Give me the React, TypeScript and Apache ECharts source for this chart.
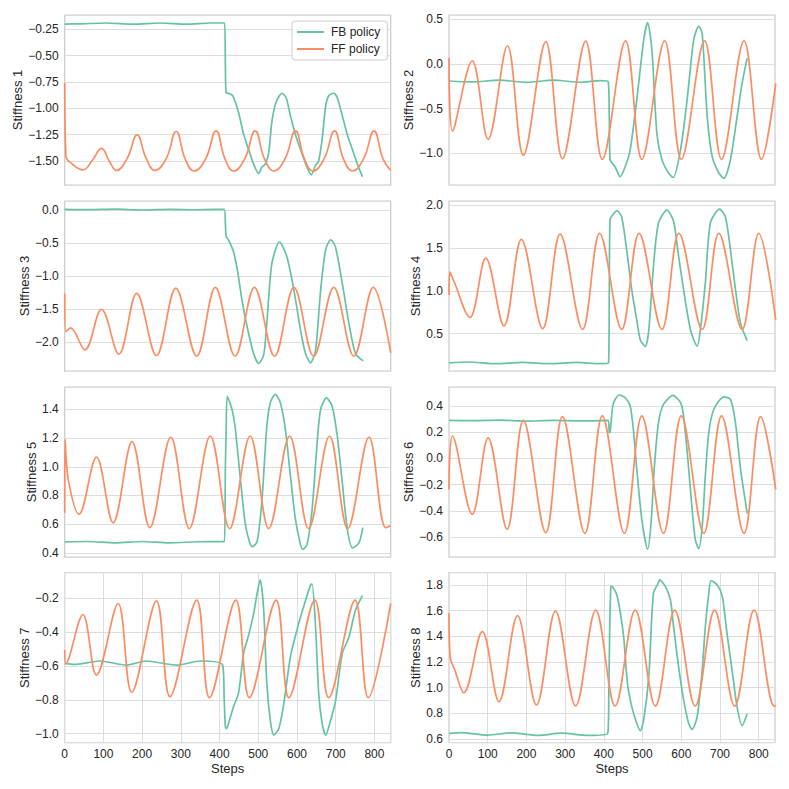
import React, { useEffect, useRef } from "react";
import * as echarts from "echarts";

// ---------------- data ----------------
const X_MAX = 842;
const panelNames = ["Stiffness 1", "Stiffness 2", "Stiffness 3", "Stiffness 4", "Stiffness 5", "Stiffness 6", "Stiffness 7", "Stiffness 8"];
const yMins = [-1.728, -1.354, -2.433, 0.065, 0.372, -0.753, -1.053, 0.571];
const yMaxs = [-0.114, 0.549, 0.136, 2.047, 1.555, 0.545, -0.048, 1.896];
const yIntervals = [0.25, 0.5, 0.5, 0.5, 0.2, 0.2, 0.2, 0.2];
const yDecimals = [2, 1, 1, 1, 1, 1, 1, 1];
const xInterval = 100;
const seriesNames = ["FB policy", "FF policy"];

const fb1 = [[0,-0.2],[40,-0.198],[108,-0.19],[177,-0.2],[246,-0.19],[315,-0.2],[376,-0.19],[413,-0.19],[415,-0.6],[417,-0.85],[425,-0.86],[434,-0.88],[449,-1.04],[462,-1.245],[475,-1.39],[488,-1.53],[501,-1.62],[509,-1.56],[518,-1.53],[527,-1.42],[535,-1.13],[546,-0.94],[561,-0.857],[572,-0.9],[583,-1.07],[596,-1.25],[613,-1.43],[626,-1.56],[637,-1.63],[648,-1.54],[656,-1.5],[665,-1.29],[674,-0.98],[682,-0.88],[695,-0.857],[704,-0.9],[717,-1.07],[730,-1.25],[743,-1.39],[756,-1.53],[769,-1.65]];
const ff1 = [[0,-0.76],[3,-1.45],[20,-1.53],[47,-1.585],[72,-1.49],[95,-1.38],[115,-1.5],[134,-1.59],[162,-1.47],[187,-1.253],[210,-1.47],[233,-1.59],[262,-1.48],[288,-1.22],[311,-1.48],[334,-1.595],[364,-1.48],[391,-1.215],[414,-1.48],[436,-1.595],[465,-1.48],[492,-1.215],[516,-1.48],[540,-1.595],[569,-1.48],[596,-1.215],[619,-1.48],[641,-1.595],[670,-1.48],[697,-1.215],[720,-1.48],[743,-1.595],[772,-1.48],[799,-1.215],[822,-1.48],[842,-1.59]];

const fb2 = [[0,-0.19],[60,-0.2],[130,-0.18],[200,-0.205],[270,-0.18],[340,-0.205],[390,-0.185],[411,-0.195],[414,-0.6],[416,-1.07],[429,-1.15],[442,-1.26],[455,-1.15],[468,-0.96],[485,-0.4],[503,0.27],[513,0.463],[524,0.16],[537,-0.78],[550,-1.07],[567,-1.22],[579,-1.27],[598,-0.96],[615,-0.4],[632,0.27],[645,0.425],[654,0.34],[667,-0.59],[680,-1.04],[697,-1.22],[710,-1.28],[727,-1.07],[744,-0.59],[757,-0.216],[770,0.063]];
const ff2 = [[0,0.07],[9,-0.75],[60,0.037],[101,-0.843],[151,0.205],[192,-1.02],[250,0.25],[293,-1.06],[353,0.257],[396,-1.067],[456,0.261],[498,-1.067],[557,0.261],[600,-1.067],[660,0.261],[704,-1.067],[762,0.261],[807,-1.067],[844,-0.216]];

const fb3 = [[0,0.01],[60,0.005],[130,0.012],[200,0.0],[270,0.01],[340,0.004],[412,0.01],[415,-0.2],[417,-0.4],[423,-0.45],[436,-0.63],[446,-0.91],[458,-1.36],[471,-1.76],[488,-2.17],[501,-2.32],[514,-2.19],[522,-1.71],[535,-0.81],[555,-0.48],[574,-0.71],[592,-1.21],[609,-1.81],[622,-2.17],[635,-2.31],[648,-2.12],[661,-1.21],[674,-0.6],[687,-0.45],[699,-0.55],[717,-1.11],[734,-1.71],[751,-2.17],[771,-2.28]];
const ff3 = [[0,-1.26],[3,-1.84],[15,-1.78],[52,-2.115],[95,-1.5],[140,-2.18],[186,-1.26],[237,-2.2],[287,-1.18],[341,-2.21],[389,-1.17],[440,-2.21],[490,-1.17],[542,-2.21],[592,-1.17],[643,-2.21],[695,-1.17],[747,-2.21],[797,-1.17],[842,-2.16]];

const fb4 = [[0,0.16],[50,0.17],[120,0.15],[190,0.165],[260,0.15],[330,0.165],[390,0.15],[412,0.16],[414,1.0],[416,1.83],[422,1.88],[434,1.935],[446,1.86],[459,1.475],[472,1.01],[485,0.66],[494,0.43],[507,0.35],[516,0.54],[528,1.28],[541,1.79],[563,1.94],[580,1.81],[593,1.4],[606,1.01],[624,0.54],[641,0.356],[649,0.54],[662,1.09],[675,1.79],[699,1.953],[714,1.86],[727,1.475],[740,1.01],[753,0.62],[770,0.42]];
const ff4 = [[0,0.95],[2,1.22],[12,1.12],[54,0.69],[95,1.38],[142,0.59],[187,1.6],[242,0.558],[287,1.66],[345,0.55],[389,1.67],[446,0.55],[491,1.67],[550,0.55],[594,1.67],[654,0.55],[697,1.67],[757,0.55],[800,1.67],[844,0.66]];

const fb5 = [[0,0.477],[60,0.48],[130,0.47],[200,0.48],[270,0.47],[340,0.478],[412,0.48],[415,1.0],[417,1.24],[420,1.49],[432,1.4],[440,1.28],[453,0.936],[466,0.61],[479,0.46],[485,0.444],[497,0.48],[509,0.75],[522,1.28],[531,1.446],[544,1.504],[557,1.446],[570,1.26],[583,0.936],[596,0.634],[609,0.46],[615,0.425],[626,0.46],[639,0.704],[652,1.168],[661,1.4],[676,1.48],[691,1.42],[704,1.214],[717,0.89],[730,0.565],[744,0.435],[760,0.47],[770,0.576]];
const ff5 = [[0,0.68],[1,1.19],[10,0.9],[37,0.67],[82,1.068],[125,0.61],[174,1.175],[220,0.576],[274,1.207],[322,0.57],[376,1.214],[426,0.57],[479,1.214],[527,0.57],[581,1.214],[630,0.57],[684,1.214],[731,0.57],[786,1.207],[829,0.576],[842,0.59]];

const fb6 = [[0,0.29],[60,0.288],[130,0.292],[200,0.285],[270,0.29],[340,0.286],[411,0.29],[414,0.196],[416,0.2],[423,0.4],[429,0.45],[440,0.484],[455,0.463],[468,0.4],[477,0.196],[485,-0.083],[498,-0.465],[513,-0.694],[522,-0.49],[530,-0.083],[541,0.273],[554,0.413],[579,0.481],[598,0.425],[606,0.32],[617,-0.01],[628,-0.39],[636,-0.618],[645,-0.689],[654,-0.52],[662,-0.134],[671,0.196],[684,0.375],[710,0.47],[727,0.45],[740,0.27],[753,-0.083],[766,-0.338],[770,-0.42]];
const ff6 = [[0,-0.236],[9,0.171],[60,-0.427],[101,0.156],[150,-0.541],[192,0.29],[250,-0.567],[293,0.319],[351,-0.572],[396,0.324],[453,-0.572],[498,0.324],[554,-0.572],[600,0.324],[658,-0.572],[704,0.324],[762,-0.572],[805,0.319],[844,-0.236]];

const fb7 = [[0,-0.585],[30,-0.59],[90,-0.57],[160,-0.594],[210,-0.57],[290,-0.594],[350,-0.57],[408,-0.594],[412,-0.8],[415,-0.96],[418,-0.97],[423,-0.94],[436,-0.84],[449,-0.76],[462,-0.525],[475,-0.417],[488,-0.29],[497,-0.17],[505,-0.09],[514,-0.27],[522,-0.7],[531,-0.92],[540,-1.008],[553,-0.97],[566,-0.82],[583,-0.545],[600,-0.385],[617,-0.25],[635,-0.12],[639,-0.115],[648,-0.37],[656,-0.76],[665,-0.94],[674,-1.008],[687,-0.92],[700,-0.8],[717,-0.525],[734,-0.43],[751,-0.27],[769,-0.184]];
const ff7 = [[0,-0.505],[3,-0.585],[47,-0.295],[82,-0.653],[138,-0.23],[173,-0.756],[237,-0.214],[272,-0.781],[341,-0.21],[374,-0.787],[442,-0.21],[477,-0.787],[546,-0.21],[579,-0.787],[646,-0.21],[682,-0.787],[750,-0.21],[784,-0.787],[842,-0.23]];

const fb8 = [[0,0.644],[30,0.65],[100,0.63],[160,0.648],[230,0.628],[290,0.645],[360,0.628],[410,0.644],[413,1.0],[415,1.45],[418,1.787],[420,1.79],[432,1.735],[440,1.63],[451,1.4],[461,1.034],[472,0.852],[485,0.722],[494,0.665],[503,0.75],[516,1.086],[528,1.735],[541,1.818],[544,1.84],[559,1.787],[572,1.683],[580,1.475],[593,1.164],[606,0.904],[619,0.722],[628,0.675],[641,0.774],[654,1.138],[662,1.475],[671,1.735],[677,1.834],[693,1.8],[706,1.71],[718,1.423],[731,1.138],[744,0.852],[757,0.704],[770,0.795]];
const ff8 = [[0,1.58],[3,1.24],[15,1.138],[38,0.96],[86,1.436],[129,0.89],[177,1.561],[226,0.865],[275,1.597],[327,0.857],[379,1.605],[429,0.857],[481,1.605],[533,0.857],[583,1.605],[636,0.857],[686,1.605],[738,0.857],[788,1.605],[840,0.857],[844,0.86]];

const fbData = [fb1, fb2, fb3, fb4, fb5, fb6, fb7, fb8];
const ffData = [ff1, ff2, ff3, ff4, ff5, ff6, ff7, ff8];

// ---------------- layout / style ----------------
const FB_COLOR = "#66c2a5";
const FF_COLOR = "#fc8d62";
const TEXT = "#262626";
const FONT = "'Liberation Sans', Arial, sans-serif";
const colLeft = [64.7, 449];
const rowTop = [15, 201, 387, 572.7];
const gridW = 326;
const gridH = 170;
const nameGaps = [40, 32, 32, 25, 26, 32, 31, 25];
const ffSmooth = [0.45, 0.36, 0.36, 0.36, 0.36, 0.36, 0.36, 0.36];

function fmt(v: number, d: number) {
  const r = Number(v.toFixed(d));
  if (r === 0) return (0).toFixed(d);
  return (r < 0 ? "\u2212" : "") + Math.abs(r).toFixed(d);
}

export default function App() {
  const ref = useRef<HTMLDivElement>(null);
  useEffect(() => {
    if (!ref.current) return;
    const chart = echarts.init(ref.current, undefined, { renderer: "svg" });
    const grids: any[] = [];
    const xAxes: any[] = [];
    const yAxes: any[] = [];
    const series: any[] = [];
    for (let i = 0; i < 8; i++) {
      const row = Math.floor(i / 2);
      const col = i % 2;
      const bottom = row === 3;
      grids.push({
        left: colLeft[col],
        top: rowTop[row],
        width: gridW,
        height: gridH,
        show: true,
        borderColor: "#cccccc",
        borderWidth: 1.25,
        backgroundColor: "#ffffff",
      });
      xAxes.push({
        type: "value",
        gridIndex: i,
        min: 0,
        max: X_MAX,
        minInterval: xInterval,
        maxInterval: xInterval,
        axisLine: { show: false },
        axisTick: { show: false },
        splitLine: { show: bottom, lineStyle: { color: "#dddddd", width: 1 } },
        axisLabel: {
          show: bottom,
          color: TEXT,
          fontSize: 12,
          fontFamily: FONT,
          margin: 5,
          showMaxLabel: false,
          formatter: (v: number) => String(Math.round(v)),
        },
        name: bottom ? "Steps" : "",
        nameLocation: "middle",
        nameGap: 19,
        nameTextStyle: { color: TEXT, fontSize: 13, fontFamily: FONT },
      });
      yAxes.push({
        type: "value",
        gridIndex: i,
        min: yMins[i],
        max: yMaxs[i],
        minInterval: yIntervals[i],
        maxInterval: yIntervals[i],
        axisLine: { show: false },
        axisTick: { show: false },
        splitLine: { show: true, lineStyle: { color: "#dddddd", width: 1 } },
        axisLabel: {
          color: TEXT,
          fontSize: 12,
          fontFamily: FONT,
          margin: 6,
          showMinLabel: false,
          showMaxLabel: false,
          formatter: (v: number) => fmt(v, yDecimals[i]),
        },
        name: panelNames[i],
        nameLocation: "middle",
        nameGap: nameGaps[i],
        nameTextStyle: { color: TEXT, fontSize: 13, fontFamily: FONT },
      });
      series.push({
        type: "line",
        name: seriesNames[0],
        xAxisIndex: i,
        yAxisIndex: i,
        data: fbData[i],
        showSymbol: false,
        smooth: 0.25,
        lineStyle: { color: FB_COLOR, width: 1.7 },
        itemStyle: { color: FB_COLOR },
        z: 2,
      });
      series.push({
        type: "line",
        name: seriesNames[1],
        xAxisIndex: i,
        yAxisIndex: i,
        data: ffData[i],
        showSymbol: false,
        smooth: ffSmooth[i],
        lineStyle: { color: FF_COLOR, width: 1.7 },
        itemStyle: { color: FF_COLOR },
        z: 3,
      });
    }
    chart.setOption({
      animation: false,
      backgroundColor: "#ffffff",
      textStyle: { fontFamily: FONT },
      grid: grids,
      xAxis: xAxes,
      yAxis: yAxes,
      series,
      legend: {
        data: seriesNames,
        left: 292,
        top: 21,
        orient: "vertical",
        icon: "rect",
        itemWidth: 27,
        itemHeight: 2,
        itemGap: 5,
        padding: [5, 7, 5, 5],
        borderColor: "#cccccc",
        borderWidth: 1,
        borderRadius: 3,
        backgroundColor: "rgba(255,255,255,0.85)",
        selectedMode: false,
        textStyle: { color: TEXT, fontSize: 12, fontFamily: FONT, padding: [0, 0, 0, 2] },
        z: 10,
      },
    });
    return () => chart.dispose();
  }, []);
  return (
    <div
      ref={ref}
      style={{ position: "absolute", left: 0, top: 0, width: 789, height: 789, background: "#fff" }}
    />
  );
}
